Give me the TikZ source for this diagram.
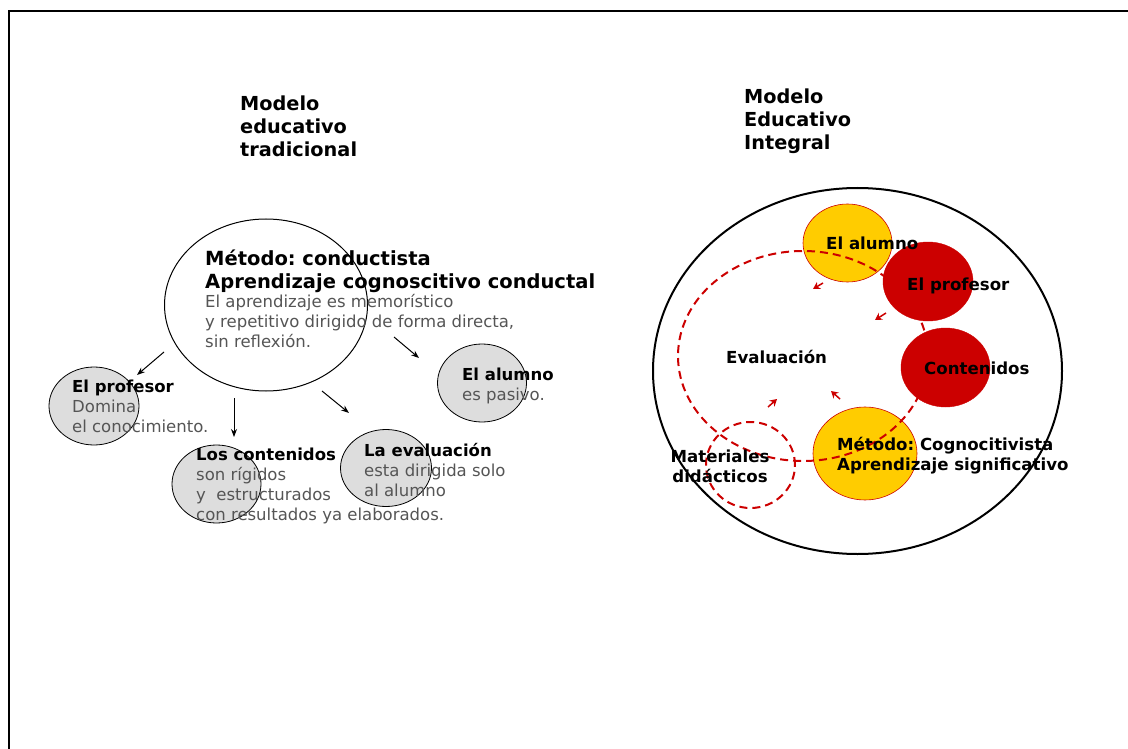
\documentclass[tikz,border=0pt]{standalone}
\usepackage{fontspec}
\setmainfont{DejaVu Sans}
\usetikzlibrary{shapes.geometric,arrows.meta}
\definecolor{yel}{HTML}{FFCC00}
\definecolor{rd}{HTML}{CC0000}
\definecolor{txtgray}{HTML}{555555}
\definecolor{circgray}{HTML}{DDDDDD}
\frenchspacing
\begin{document}
\begin{tikzpicture}[x=1pt,y=-1pt,
  circ/.style={ellipse, inner sep=0pt, outer sep=0pt},
  greycirc/.style={circ, draw=black, fill=circgray, line width=0.8pt},
  title/.style={anchor=north west, inner sep=0pt, align=left, font=\fontsize{19.3}{23}\selectfont\bfseries},
  bigtxt/.style={anchor=north west, inner sep=0pt, align=left, font=\fontsize{19.5}{23}\selectfont\bfseries},
  bodytxt/.style={anchor=north west, inner sep=0pt, align=left, text=txtgray, font=\fontsize{16.5}{20}\selectfont},
  lbl/.style={anchor=base west, inner sep=0pt, font=\fontsize{16.6}{20}\selectfont\bfseries},
  arr/.style={-{Stealth[length=8pt,width=6pt]}, line width=1pt},
  redarr/.style={-{Stealth[length=7pt,width=8pt]}, draw=rd, fill=rd, line width=1.5pt},
  reddash/.style={draw=rd, line width=2pt, dash pattern=on 8pt off 5pt}
]
\useasboundingbox (0,0) rectangle (1128,749);
% frame
\coordinate (fbl) at (8.5,749);
\coordinate (ftl) at (8.5,11);
\coordinate (ftr) at (1128,11);
\draw[line width=2pt] (fbl) -- (ftl) -- (ftr);

% ---------- left: traditional model ----------
\node[title] (tl) at (240,95.5) {Modelo\\educativo\\tradicional};
\node[circ, draw=black, fill=white, line width=1pt, minimum width=203pt, minimum height=172pt] (big) at (266,305) {};
\node[greycirc, minimum width=90pt, minimum height=78pt] (cprof) at (94,406) {};
\node[greycirc, minimum width=89pt, minimum height=78pt] (ccont) at (216.5,484) {};
\node[greycirc, minimum width=91pt, minimum height=77pt] (ceval) at (386,468) {};
\node[greycirc, minimum width=89pt, minimum height=78pt] (calum) at (482,383) {};

\node[bigtxt] (met) at (205,249.5) {Método: conductista\\Aprendizaje cognoscitivo conductal};
\node[bodytxt] (metb) at (205,294) {El aprendizaje es memorístico\\y repetitivo dirigido de forma directa,\\sin reflexión.};
\node[bodytxt] (tprof) at (72,380) {\textcolor{black}{\bfseries El profesor}\\Domina\\el conocimiento.};
\node[bodytxt] (tcont) at (196,448) {\textcolor{black}{\bfseries Los contenidos}\\son rígidos\\y\ \ estructurados\\con resultados ya elaborados.};
\node[bodytxt] (teval) at (364,443) {\textcolor{black}{\bfseries La evaluación}\\esta dirigida solo\\al alumno};
\node[bodytxt] (talum) at (462,368) {\textcolor{black}{\bfseries El alumno}\\es pasivo.};

\coordinate (a1s) at (164,352); \coordinate (a1e) at (137,375);
\coordinate (a2s) at (234,398); \coordinate (a2e) at (234,437);
\coordinate (a3s) at (322,391); \coordinate (a3e) at (349,413);
\coordinate (a4s) at (394,337); \coordinate (a4e) at (419,358);
\draw[arr] (a1s) -- (a1e);
\draw[arr] (a2s) -- (a2e);
\draw[arr] (a3s) -- (a3e);
\draw[arr] (a4s) -- (a4e);

% ---------- right: integral model ----------
\node[title] (tr) at (744,88.5) {Modelo\\Educativo\\Integral};
\node[circ, draw=black, line width=2pt, minimum width=409pt, minimum height=366pt] (outer) at (857.5,371) {};
\node[circ, draw=rd, fill=yel, line width=0.6pt, minimum width=89pt, minimum height=78pt] (ralum) at (847.5,243) {};
\node[circ, draw=rd, fill=rd, minimum width=90pt, minimum height=79pt] (rprof) at (928,281.5) {};
\node[circ, draw=rd, fill=rd, minimum width=89pt, minimum height=79pt] (rcont) at (945.5,367.5) {};
\node[circ, draw=rd, fill=yel, line width=0.6pt, minimum width=104pt, minimum height=93pt] (rmet) at (865,453.5) {};
\node[circ, reddash, minimum width=89pt, minimum height=86pt] (rmat) at (750.5,465) {};
\node[circ, reddash, minimum width=250pt, minimum height=210pt] (loop) at (803,356) {};

\coordinate (r1s) at (823,283); \coordinate (r1e) at (813,289);
\coordinate (r2s) at (886,313); \coordinate (r2e) at (875,320);
\coordinate (r3s) at (768,407); \coordinate (r3e) at (777,399);
\coordinate (r4s) at (840,399); \coordinate (r4e) at (831,391);
\draw[redarr] (r1s) -- (r1e);
\draw[redarr] (r2s) -- (r2e);
\draw[redarr] (r3s) -- (r3e);
\draw[redarr] (r4s) -- (r4e);

\node[lbl] (lalum) at (826,249) {El alumno};
\node[lbl] (lprof) at (907,290) {El profesor};
\node[lbl] (lcont) at (924,374) {Contenidos};
\node[lbl] (leval) at (726,363) {Evaluación};
\node[anchor=north west, inner sep=0pt, align=left, font=\fontsize{16.6}{20}\selectfont\bfseries] (lmet) at (837,437) {Método: Cognocitivista\\Aprendizaje significativo};
\node[anchor=north, inner sep=0pt, align=center, font=\fontsize{16.6}{20}\selectfont\bfseries] (lmat) at (720,450) {Materiales\\didácticos};
\end{tikzpicture}
\end{document}
